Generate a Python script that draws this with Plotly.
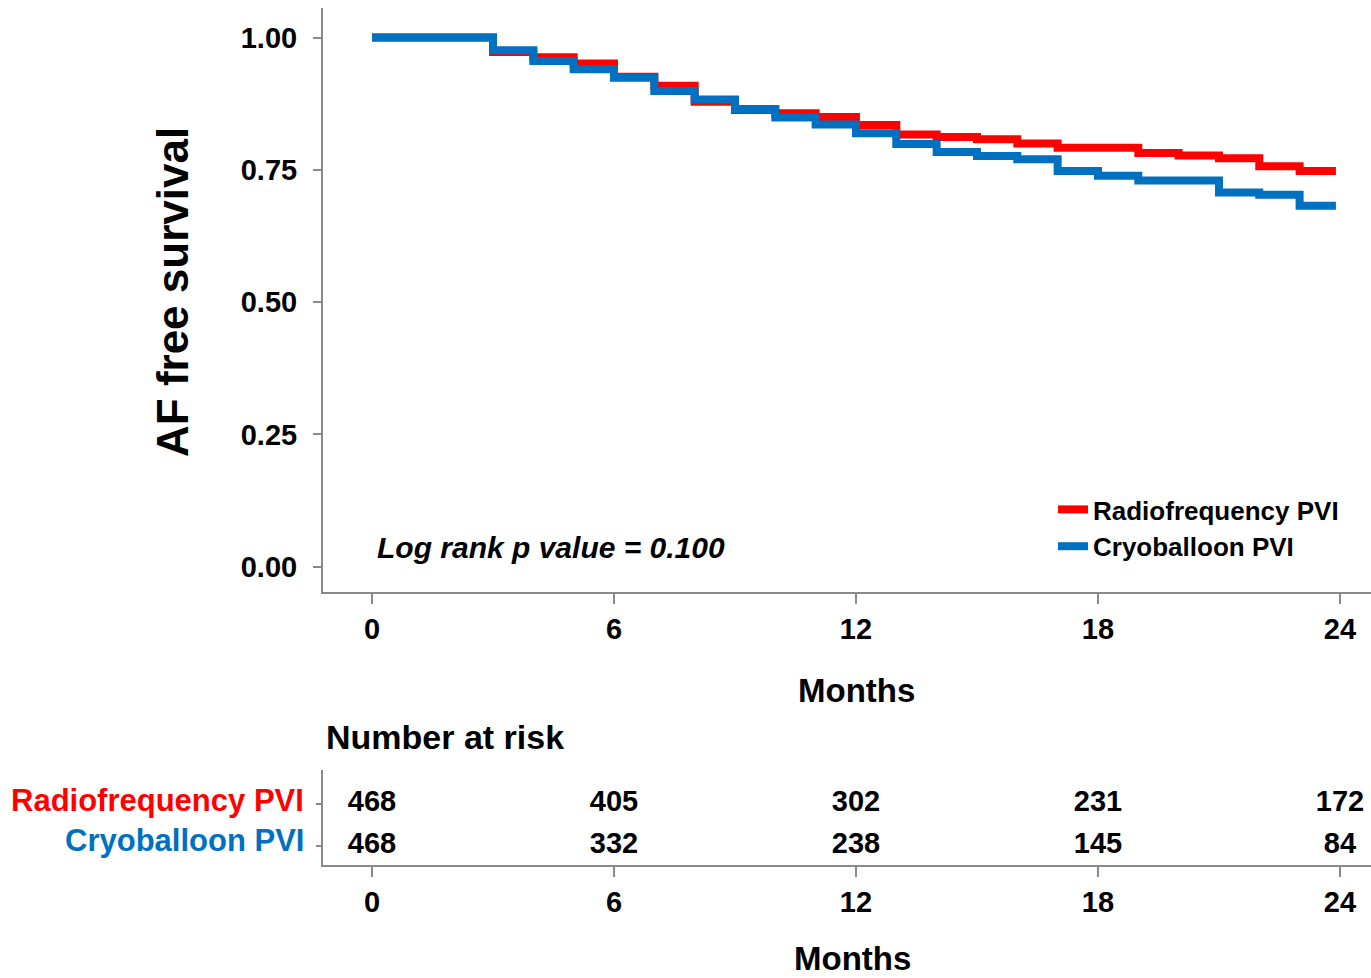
import plotly.graph_objects as go

# ---- data ----
months_rf = [0, 3, 4, 5, 6, 7, 8, 9, 10, 11, 12, 13, 14, 15, 16, 17, 19, 20, 21, 22, 23, 23.9]
surv_rf = [1.0, 0.973, 0.963, 0.951, 0.926, 0.909, 0.879, 0.863, 0.857, 0.850, 0.835, 0.817,
           0.812, 0.808, 0.800, 0.792, 0.782, 0.777, 0.772, 0.757, 0.748, 0.748]
months_cryo = [0, 3, 4, 5, 6, 7, 8, 9, 10, 11, 12, 13, 14, 15, 16, 17, 18, 19, 21, 22, 23, 23.9]
surv_cryo = [1.0, 0.976, 0.956, 0.940, 0.924, 0.899, 0.883, 0.865, 0.849, 0.836, 0.819, 0.799,
             0.784, 0.776, 0.770, 0.748, 0.739, 0.730, 0.707, 0.703, 0.682, 0.682]

risk_times = [0, 6, 12, 18, 24]
risk_rf = [468, 405, 302, 231, 172]
risk_cryo = [468, 332, 238, 145, 84]

x_ticks = [0, 6, 12, 18, 24]
y_ticks = [0.0, 0.25, 0.50, 0.75, 1.00]
y_ticklabels = ["0.00", "0.25", "0.50", "0.75", "1.00"]
group_names = ["Radiofrequency PVI", "Cryoballoon PVI"]
p_text = "Log rank p value = 0.100"

RED = "#FF0000"
BLUE = "#0070C0"
FONT = "Liberation Sans, Arial, sans-serif"
AXC = "#8a8a8a"

W, H = 1371, 978


def px_x(p):
    return p / W


def px_y(p):
    return 1 - p / H


fig = go.Figure()
fig.add_trace(go.Scatter(x=months_rf, y=surv_rf, mode="lines", line=dict(shape="hv", color=RED, width=8),
                         name=group_names[0], xaxis="x", yaxis="y"))
fig.add_trace(go.Scatter(x=months_cryo, y=surv_cryo, mode="lines", line=dict(shape="hv", color=BLUE, width=8),
                         name=group_names[1], xaxis="x", yaxis="y"))

num_font = dict(family=FONT, size=29, color="black", weight="bold")
fig.add_trace(go.Scatter(x=risk_times, y=[2] * len(risk_times), mode="text", text=[str(v) for v in risk_rf],
                         textfont=num_font, showlegend=False, xaxis="x2", yaxis="y2", hoverinfo="skip"))
fig.add_trace(go.Scatter(x=risk_times, y=[1] * len(risk_times), mode="text", text=[str(v) for v in risk_cryo],
                         textfont=num_font, showlegend=False, xaxis="x2", yaxis="y2", hoverinfo="skip"))

xdom = [px_x(323), 1.0]
xrange = [-1.215, 24.77]
axis_common = dict(showgrid=False, zeroline=False, showline=True, linecolor=AXC, linewidth=2,
                   ticks="outside", tickcolor=AXC, tickwidth=2, automargin=False)
tick_font = dict(family=FONT, size=29, color="black", weight="bold")

fig.update_layout(
    width=W, height=H,
    margin=dict(l=0, r=0, t=0, b=0, autoexpand=False),
    paper_bgcolor="white", plot_bgcolor="white",
    xaxis=dict(domain=xdom, range=xrange, tickvals=x_ticks, ticklen=10, tickfont=tick_font,
               anchor="y", **axis_common),
    yaxis=dict(domain=[px_y(592), px_y(8)], range=[-0.048, 1.056], tickvals=y_ticks, ticktext=y_ticklabels,
               ticklen=8, ticklabelstandoff=10, tickfont=tick_font, anchor="x", **axis_common),
    xaxis2=dict(domain=xdom, range=xrange, tickvals=x_ticks, ticklen=10, tickfont=tick_font,
                anchor="y2", **axis_common),
    yaxis2=dict(domain=[px_y(865), px_y(770)], range=[0.547, 2.809], tickvals=[1, 2], ticktext=["", ""],
                ticklen=5, anchor="x2", **axis_common),
    legend=dict(x=px_x(1053), y=px_y(486), xanchor="left", yanchor="top", bgcolor="rgba(0,0,0,0)",
                font=dict(family=FONT, size=26, color="black", weight="bold"),
                itemwidth=30, tracegroupgap=0),
    showlegend=True,
)

annotations = [
    dict(text="AF free survival", x=px_x(172), y=px_y(292), xref="paper", yref="paper", textangle=-90,
         showarrow=False, font=dict(family=FONT, size=44, color="black", weight="bold"),
         xanchor="center", yanchor="middle"),
    dict(text="Months", x=px_x(856), y=px_y(690), xref="paper", yref="paper", showarrow=False,
         font=dict(family=FONT, size=33, color="black", weight="bold"), xanchor="center", yanchor="middle"),
    dict(text="Months", x=px_x(852), y=px_y(958), xref="paper", yref="paper", showarrow=False,
         font=dict(family=FONT, size=33, color="black", weight="bold"), xanchor="center", yanchor="middle"),
    dict(text="Number at risk", x=px_x(324), y=px_y(737), xref="paper", yref="paper", showarrow=False,
         font=dict(family=FONT, size=34, color="black", weight="bold"), xanchor="left", yanchor="middle"),
    dict(text=p_text, x=0.07, y=0.037, xref="x", yref="y", showarrow=False,
         font=dict(family=FONT, size=30, color="black", style="italic", weight="bold"),
         xanchor="left", yanchor="middle"),
    dict(text=group_names[0], x=px_x(306), y=px_y(800), xref="paper", yref="paper", showarrow=False,
         font=dict(family=FONT, size=31, color=RED, weight="bold"), xanchor="right", yanchor="middle"),
    dict(text=group_names[1], x=px_x(306), y=px_y(840), xref="paper", yref="paper", showarrow=False,
         font=dict(family=FONT, size=31, color=BLUE, weight="bold"), xanchor="right", yanchor="middle"),
]
fig.update_layout(annotations=annotations)

fig.write_html("out.html")
